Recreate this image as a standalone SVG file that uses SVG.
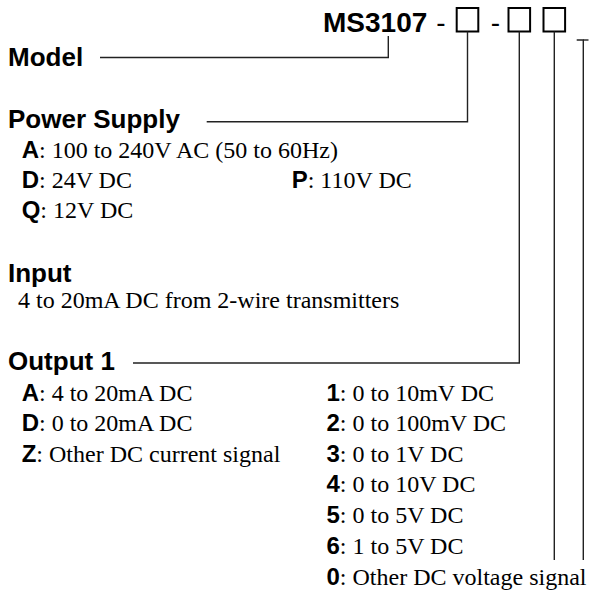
<svg xmlns="http://www.w3.org/2000/svg" width="589" height="592" viewBox="0 0 589 592">
<style>
.h{font-family:"Liberation Sans",Arial,sans-serif;font-weight:bold;font-size:26px;fill:#000}
.c{font-family:"Liberation Sans",Arial,sans-serif;font-weight:bold;font-size:28px;fill:#000}
.hy{font-family:"Liberation Sans",Arial,sans-serif;font-size:28px;fill:#000;text-anchor:middle}
.t{font-family:"Liberation Serif","Times New Roman",serif;font-size:24px;fill:#000}
.k{font-family:"Liberation Sans",Arial,sans-serif;font-weight:bold;font-size:24px}
.box{fill:none;stroke:#000;stroke-width:2}
.ln{fill:none;stroke:#222;stroke-width:1.4}
</style>
<rect width="589" height="592" fill="#fff"/>
<g id="code">
<text class="c" x="323" y="31.7">MS3107</text>
<text class="hy" x="441" y="31.7">-</text>
<rect class="box" x="456.7" y="8" width="21.6" height="23.5"/>
<text class="hy" x="495.5" y="31.7">-</text>
<rect class="box" x="508.5" y="8" width="21.6" height="23.5"/>
<rect class="box" x="543.5" y="8" width="21.6" height="23.5"/>
</g>
<g id="model">
<text class="h" x="8" y="66">Model</text>
</g>
<g id="power">
<text class="h" x="8" y="127.5">Power Supply</text>
<text class="t" x="21.7" y="158.3"><tspan class="k">A</tspan>: 100 to 240V AC (50 to 60Hz)</text>
<text class="t" x="21.7" y="188.3"><tspan class="k">D</tspan>: 24V DC</text>
<text class="t" x="291.7" y="188.3"><tspan class="k">P</tspan>: 110V DC</text>
<text class="t" x="21.7" y="218.3"><tspan class="k">Q</tspan>: 12V DC</text>
</g>
<g id="input">
<text class="h" x="8" y="281.7">Input</text>
<text class="t" x="18" y="308.3">4 to 20mA DC from 2-wire transmitters</text>
</g>
<g id="output1">
<text class="h" x="8" y="370">Output 1</text>
<text class="t" x="21.7" y="400.5"><tspan class="k">A</tspan>: 4 to 20mA DC</text>
<text class="t" x="21.7" y="431"><tspan class="k">D</tspan>: 0 to 20mA DC</text>
<text class="t" x="21.7" y="461.5"><tspan class="k">Z</tspan>: Other DC current signal</text>
<text class="t" x="326.5" y="400.5"><tspan class="k">1</tspan>: 0 to 10mV DC</text>
<text class="t" x="326.5" y="431"><tspan class="k">2</tspan>: 0 to 100mV DC</text>
<text class="t" x="326.5" y="461.5"><tspan class="k">3</tspan>: 0 to 1V DC</text>
<text class="t" x="326.5" y="492"><tspan class="k">4</tspan>: 0 to 10V DC</text>
<text class="t" x="326.5" y="523"><tspan class="k">5</tspan>: 0 to 5V DC</text>
<text class="t" x="326.5" y="554"><tspan class="k">6</tspan>: 1 to 5V DC</text>
<text class="t" x="326.5" y="585"><tspan class="k">0</tspan>: Other DC voltage signal</text>
</g>
<g id="connectors">
<polyline class="ln" points="100,57.5 388.3,57.5 388.3,36"/>
<polyline class="ln" points="206.7,121.7 467.5,121.7 467.5,31.5"/>
<polyline class="ln" points="133,363 519.3,363 519.3,31.5"/>
<line class="ln" x1="554.3" y1="31.5" x2="554.3" y2="560"/>
<polyline class="ln" points="576.7,40 583.3,40 583.3,560"/>
<line class="ln" x1="583.3" y1="40" x2="588.5" y2="40"/>
</g>
</svg>
